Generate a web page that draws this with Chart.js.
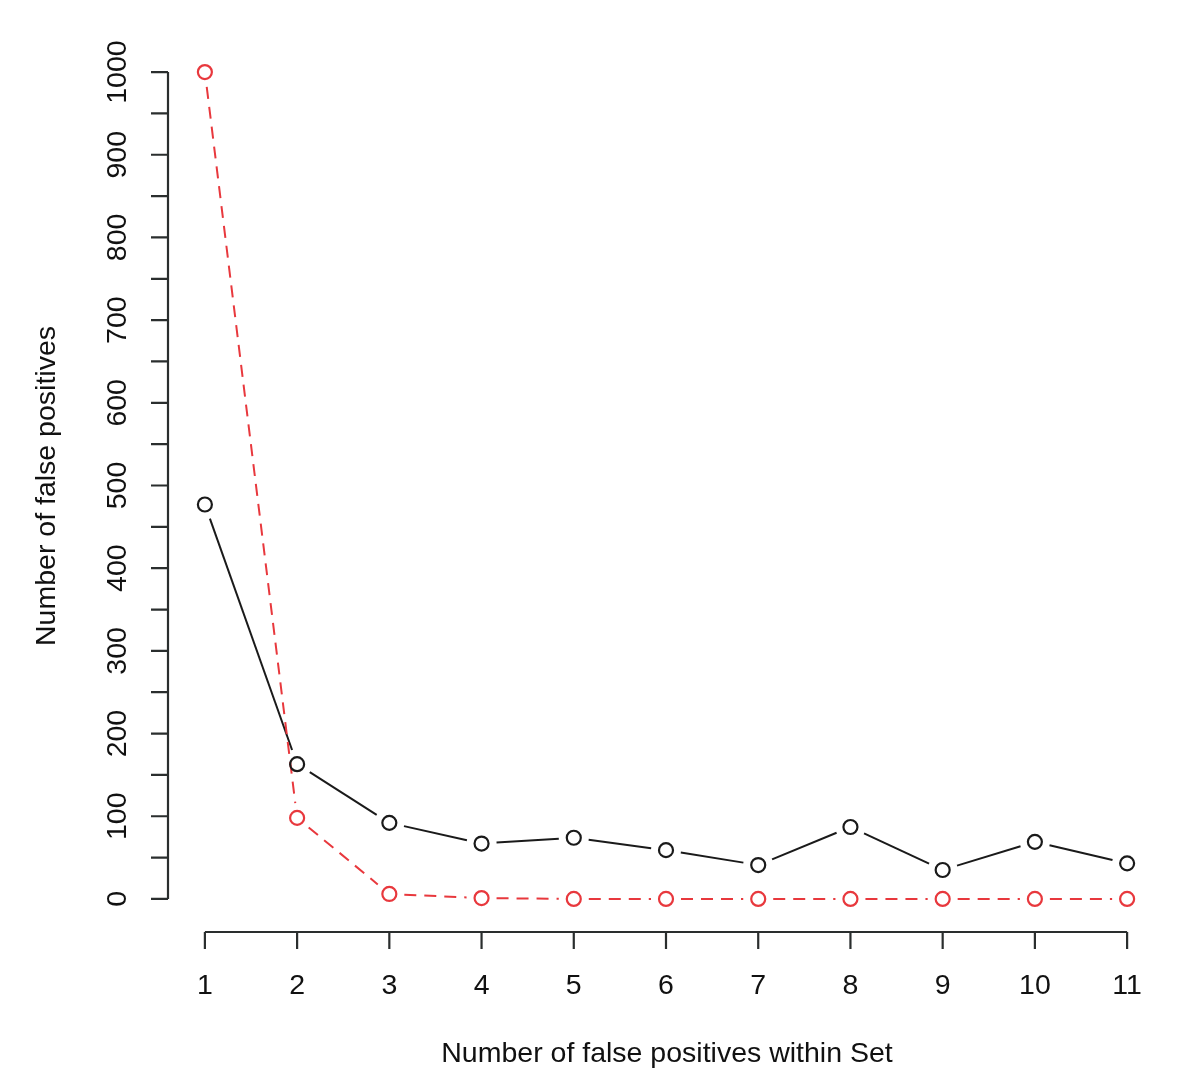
<!DOCTYPE html>
<html>
<head>
<meta charset="utf-8">
<script src="https://cdn.jsdelivr.net/npm/chart.js@4/dist/chart.umd.min.js"></script>
<style>
html,body{margin:0;padding:0;background:#fff;}
#wrap{width:1200px;height:1079px;}
</style>
</head>
<body>
<div id="wrap"><canvas id="c" width="1200" height="1079"></canvas></div>
<script>
const categories = [1, 2, 3, 4, 5, 6, 7, 8, 9, 10, 11];
const blackValues = [477, 163, 92, 67, 74, 59, 41, 87, 35, 69, 43];
const redValues = [1000, 98, 6, 1, 0, 0, 0, 0, 0, 0, 0];
const yTickValues = [0, 100, 200, 300, 400, 500, 600, 700, 800, 900, 1000];
const yMinorTicks = [50, 150, 250, 350, 450, 550, 650, 750, 850, 950];
const xTitle = 'Number of false positives within Set';
const yTitle = 'Number of false positives';

const FONT = '"Liberation Sans", Arial, Helvetica, sans-serif';
const AXIS_COLOR = '#2a2e2e';

const gapLines = {
  id: 'gapLines',
  beforeDatasetsDraw(chart) {
    const ctx = chart.ctx;
    chart.data.datasets.forEach((ds, i) => {
      const meta = chart.getDatasetMeta(i);
      const pts = meta.data;
      const gap = 15;
      ctx.save();
      ctx.strokeStyle = ds.borderColor;
      ctx.lineWidth = 2;
      ctx.setLineDash(ds.gapDash || []);
      for (let k = 0; k < pts.length - 1; k++) {
        const a = pts[k], b = pts[k + 1];
        const dx = b.x - a.x, dy = b.y - a.y;
        const len = Math.hypot(dx, dy);
        if (len <= 2 * gap) continue;
        const ux = dx / len, uy = dy / len;
        ctx.beginPath();
        ctx.moveTo(a.x + ux * gap, a.y + uy * gap);
        ctx.lineTo(b.x - ux * gap, b.y - uy * gap);
        ctx.stroke();
      }
      ctx.restore();
    });
  }
};

const rAxes = {
  id: 'rAxes',
  afterDraw(chart) {
    const ctx = chart.ctx;
    const xs = chart.scales.x, ys = chart.scales.y;
    const area = chart.chartArea;
    ctx.save();
    ctx.strokeStyle = AXIS_COLOR;
    ctx.fillStyle = '#111';
    ctx.lineWidth = 2.2;
    ctx.setLineDash([]);
    // x axis
    const xa = xs.getPixelForValue(categories[0]);
    const xb = xs.getPixelForValue(categories[categories.length - 1]);
    const yAxisY = area.bottom;
    ctx.beginPath();
    ctx.moveTo(xa, yAxisY); ctx.lineTo(xb, yAxisY);
    categories.forEach(c => {
      const px = xs.getPixelForValue(c);
      ctx.moveTo(px, yAxisY); ctx.lineTo(px, yAxisY + 17);
    });
    ctx.stroke();
    ctx.font = '28.5px ' + FONT;
    ctx.textAlign = 'center';
    ctx.textBaseline = 'middle';
    categories.forEach(c => {
      ctx.fillText(String(c), xs.getPixelForValue(c), 986);
    });
    ctx.fillText(xTitle, (area.left + area.right) / 2 + 1, 1054);
    // y axis
    const ya = ys.getPixelForValue(yTickValues[0]);
    const yb = ys.getPixelForValue(yTickValues[yTickValues.length - 1]);
    const xAxisX = area.left;
    ctx.beginPath();
    ctx.moveTo(xAxisX, ya); ctx.lineTo(xAxisX, yb);
    yTickValues.concat(yMinorTicks).forEach(v => {
      const py = ys.getPixelForValue(v);
      ctx.moveTo(xAxisX, py); ctx.lineTo(xAxisX - 17, py);
    });
    ctx.stroke();
    yTickValues.forEach(v => {
      const py = ys.getPixelForValue(v);
      ctx.save();
      ctx.translate(118, py);
      ctx.rotate(-Math.PI / 2);
      ctx.fillText(String(v), 0, 0);
      ctx.restore();
    });
    ctx.save();
    ctx.translate(47, 486);
    ctx.rotate(-Math.PI / 2);
    ctx.fillText(yTitle, 0, 0);
    ctx.restore();
    ctx.restore();
  }
};

new Chart(document.getElementById('c'), {
  type: 'line',
  data: {
    datasets: [
      {
        label: 'black',
        data: categories.map((c, i) => ({x: c, y: blackValues[i]})),
        borderColor: '#1a1a1a',
        showLine: false,
        pointStyle: 'circle',
        pointRadius: 7,
        pointBorderWidth: 2.2,
        pointBorderColor: '#1a1a1a',
        pointBackgroundColor: 'rgba(0,0,0,0)',
        gapDash: []
      },
      {
        label: 'red',
        data: categories.map((c, i) => ({x: c, y: redValues[i]})),
        borderColor: '#e8383d',
        showLine: false,
        pointStyle: 'circle',
        pointRadius: 7,
        pointBorderWidth: 2.2,
        pointBorderColor: '#e8383d',
        pointBackgroundColor: 'rgba(0,0,0,0)',
        gapDash: [12, 8]
      }
    ]
  },
  options: {
    responsive: false,
    animation: false,
    devicePixelRatio: 1,
    layout: {padding: {left: 168, right: 36, top: 39, bottom: 147}},
    plugins: {legend: {display: false}, tooltip: {enabled: false}},
    scales: {
      x: {type: 'linear', min: 0.6, max: 11.4, display: false},
      y: {type: 'linear', min: -40, max: 1040, display: false}
    }
  },
  plugins: [gapLines, rAxes]
});
</script>
</body>
</html>
